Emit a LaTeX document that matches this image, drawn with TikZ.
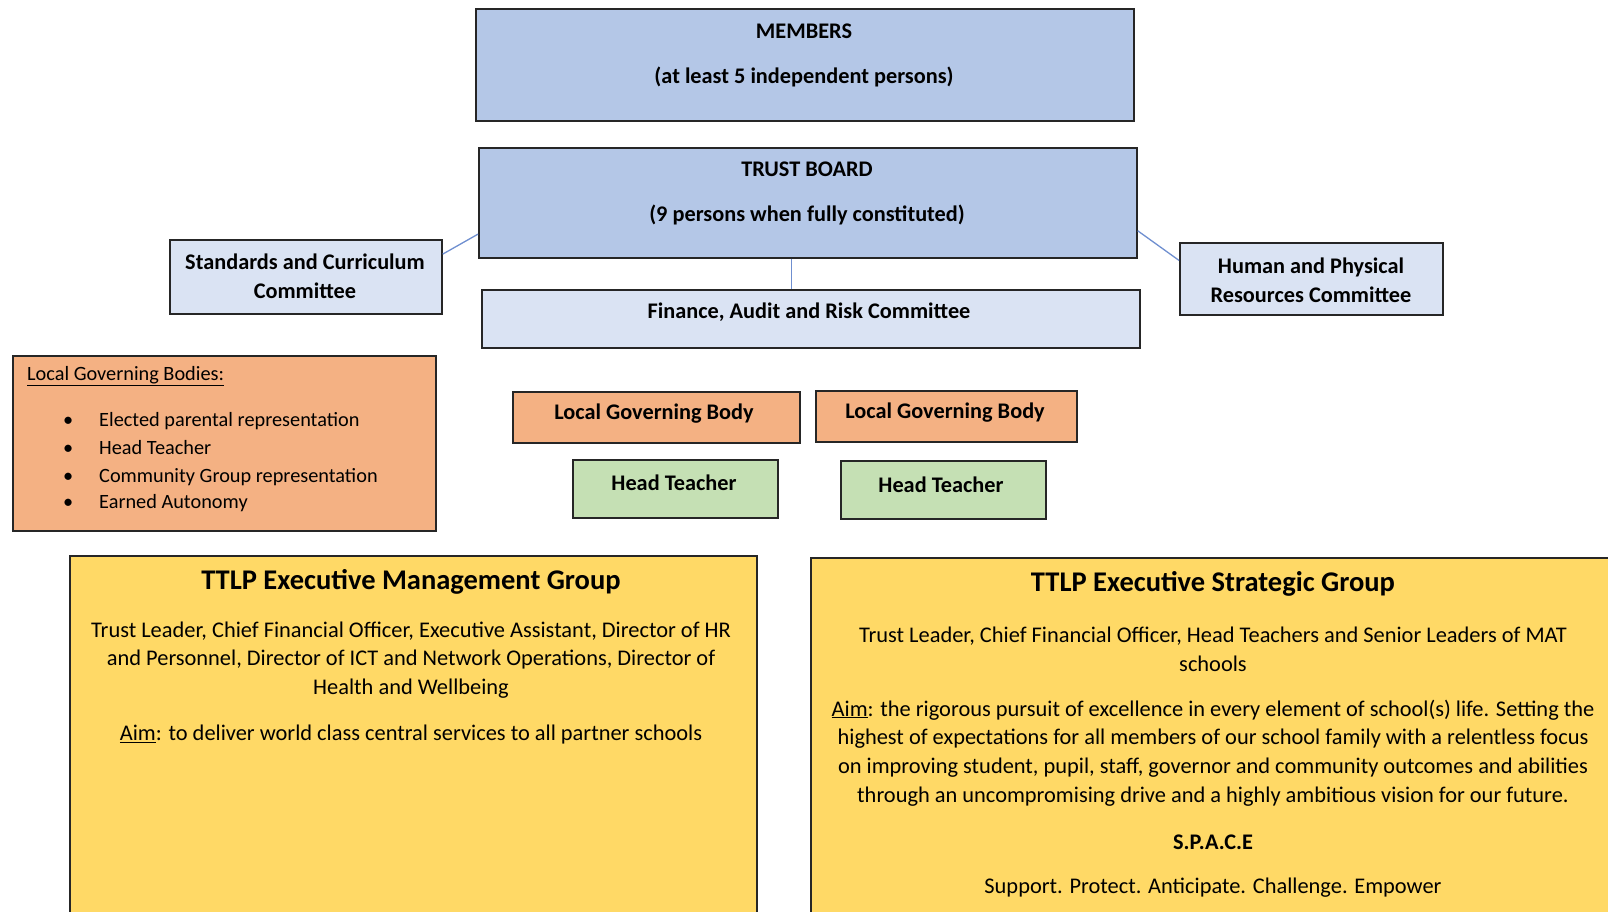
\documentclass[tikz,border=0pt]{standalone}
\usepackage{fontspec}
\setmainfont{Carlito}
\usetikzlibrary{calc}
\definecolor{bluebox}{HTML}{B4C7E7}
\definecolor{lightbox}{HTML}{DAE3F3}
\definecolor{orangebox}{HTML}{F4B183}
\definecolor{greenbox}{HTML}{C5E0B4}
\definecolor{yellowbox}{HTML}{FFD966}
\definecolor{connblue}{HTML}{6F8FD0}
\definecolor{edge}{HTML}{262626}
\begin{document}
\begin{tikzpicture}[x=1pt,y=-1pt,
  box/.style={draw=edge, line width=1.7pt, inner sep=0pt, anchor=north west},
  conn/.style={draw=connblue, line width=1.3pt},
  body/.style={inner sep=0pt, align=center, font=\fontsize{22.4}{28.7}\selectfont},
  bbody/.style={inner sep=0pt, align=center, font=\fontsize{22.3}{28.7}\selectfont\bfseries},
  title/.style={inner sep=0pt, align=center, font=\fontsize{28.5}{32}\selectfont\bfseries},
  small/.style={inner sep=0pt, align=left, anchor=west, font=\fontsize{20.3}{24}\selectfont},
  smallbase/.style={inner sep=0pt, anchor=base west, font=\fontsize{20.3}{24}\selectfont},
]
\useasboundingbox (0,0) rectangle (1608,912);

% boxes
\node[box, fill=bluebox, minimum width=658pt, minimum height=112pt] (members) at (475,8) {};
\node[box, fill=bluebox, minimum width=658pt, minimum height=110pt] (trust) at (478,147) {};
\node[box, fill=lightbox, minimum width=272pt, minimum height=74pt] (std) at (169,239) {};
\node[box, fill=lightbox, minimum width=658pt, minimum height=58pt] (fin) at (481,289) {};
\node[box, fill=lightbox, minimum width=263pt, minimum height=72pt] (hum) at (1179,242) {};
\node[box, fill=orangebox, minimum width=423pt, minimum height=175pt] (lgblist) at (12,355) {};
\node[box, fill=orangebox, minimum width=287pt, minimum height=51pt] (lgb1) at (512,391) {};
\node[box, fill=orangebox, minimum width=261pt, minimum height=51pt] (lgb2) at (815,390) {};
\node[box, fill=greenbox, minimum width=205pt, minimum height=58pt] (ht1) at (572,459) {};
\node[box, fill=greenbox, minimum width=205pt, minimum height=58pt] (ht2) at (840,460) {};
\node[box, fill=yellowbox, minimum width=687pt, minimum height=380pt] (emg) at (69,555) {};
\node[box, fill=yellowbox, minimum width=820pt, minimum height=380pt] (esg) at (810,557) {};

% connectors
\coordinate (tl) at ($(trust.north west)!0.78!(trust.south west)$);
\coordinate (sr) at ($(std.north east)!0.2!(std.south east)$);
\coordinate (tr) at ($(trust.north east)!0.75!(trust.south east)$);
\coordinate (hl) at ($(hum.north west)!0.25!(hum.south west)$);
\coordinate (tb) at ($(trust.south west)!0.475!(trust.south east)$);
\draw[conn] (tl) -- (sr);
\draw[conn] (tr) -- (hl);
\draw[conn] (tb) -- (tb |- fin.north);

% texts
\node[bbody] (t1) at (804,31) {MEMBERS};
\node[bbody] (t2) at (804,76.5) {(at least 5 independent persons)};
\node[bbody] (t3) at (807,169.5) {TRUST BOARD};
\node[bbody] (t4) at (807,214.5) {(9 persons when fully constituted)};
\node[bbody] (t5) at (305,276) {Standards and Curriculum\\Committee};
\node[bbody] (t6) at (809,312.5) {Finance, Audit and Risk Committee};
\node[bbody] (t7) at (1311,280) {Human and Physical\\Resources Committee};

\node[small] (t8) at (27,376.5) {\underline{Local Governing Bodies:}};
\foreach \yy/\tx [count=\i] in {426.5/Elected parental representation,454.5/Head Teacher,482.5/Community Group representation,508.5/Earned Autonomy}{
  \node[smallbase] (b\i) at (63,\yy) {\textbullet};
  \node[smallbase] (l\i) at (99,\yy) {\tx};
}

\node[bbody] (t9) at (654,413.5) {Local Governing Body};
\node[bbody] (t10) at (945,412.5) {Local Governing Body};
\node[bbody] (t11) at (674,482.5) {Head Teacher};
\node[bbody] (t12) at (941,484.5) {Head Teacher};

\node[title] (t13) at (411,581.5) {TTLP Executive Management Group};
\node[body] (t14) at (411,660) {Trust Leader, Chief Financial Officer, Executive Assistant, Director of HR\\and Personnel, Director of ICT and Network Operations, Director of\\Health and Wellbeing};
\node[body] (t15) at (411,734.5) {\underline{Aim}: to deliver world class central services to all partner schools};

\node[title] (t16) at (1213,583.5) {TTLP Executive Strategic Group};
\node[body] (t17) at (1213,649) {Trust Leader, Chief Financial Officer, Head Teachers and Senior Leaders of MAT\\schools};
\node[body] (t18) at (1213,753) {\underline{Aim}: the rigorous pursuit of excellence in every element of school(s) life. Setting the\\highest of expectations for all members of our school family with a relentless focus\\on improving student, pupil, staff, governor and community outcomes and abilities\\through an uncompromising drive and a highly ambitious vision for our future.};
\node[bbody] (t19) at (1213,842.5) {S.P.A.C.E};
\node[body] (t20) at (1213,887.5) {Support. Protect. Anticipate. Challenge. Empower};
\end{tikzpicture}
\end{document}
